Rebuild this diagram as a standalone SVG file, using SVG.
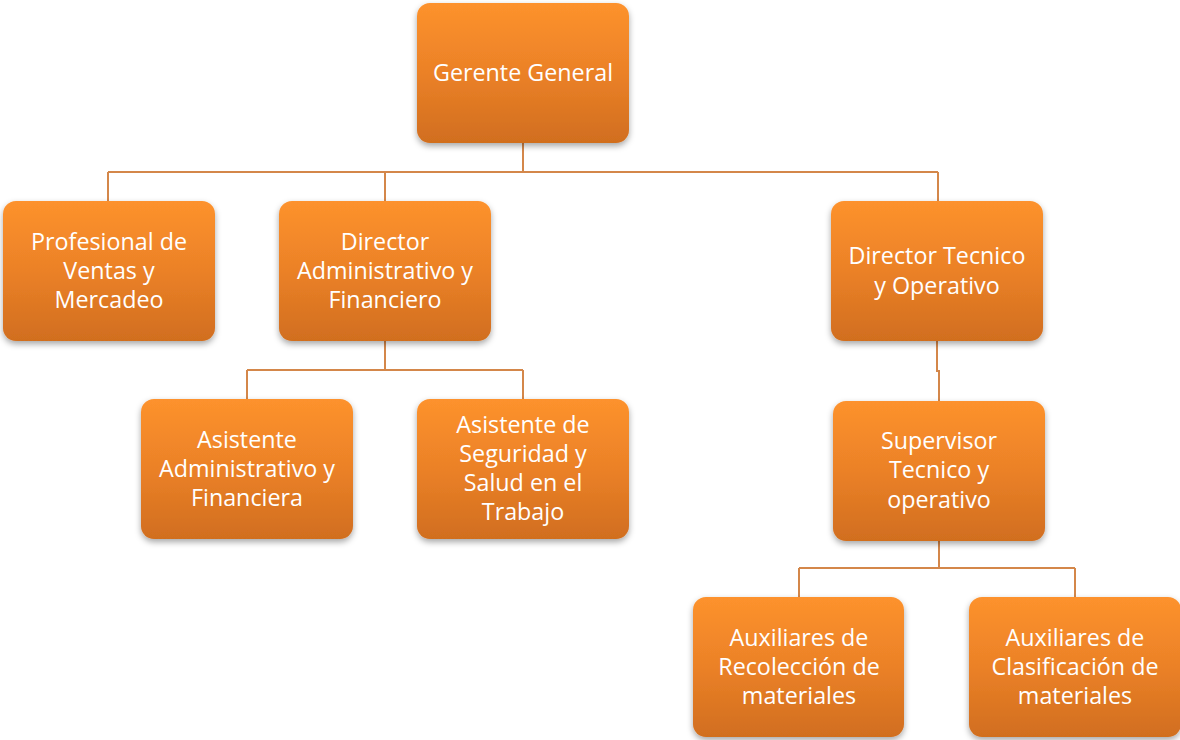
<svg xmlns="http://www.w3.org/2000/svg" width="1180" height="740" viewBox="0 0 1180 740">
<defs>
<linearGradient id="g" x1="0" y1="0" x2="0" y2="1">
<stop offset="0" stop-color="#FD922D"/>
<stop offset="0.5" stop-color="#EB8127"/>
<stop offset="1" stop-color="#D16E1F"/>
</linearGradient>
<filter id="sh" x="-10%" y="-10%" width="120%" height="130%">
<feDropShadow dx="0" dy="3" stdDeviation="3" flood-color="#000" flood-opacity="0.35"/>
</filter>
</defs>
<style>
.box{fill:url(#g);filter:url(#sh)}
.t{font-family:"Open Sans","Liberation Sans",sans-serif;font-size:23.3px;fill:#fff;text-anchor:middle}
.c{fill:none;stroke:#D4874A;stroke-width:2}
</style>
<rect width="1180" height="740" fill="#fff"/>
<g id="connectors">
<path class="c" d="M523 143V172M108 172H938M108 172V201M385 172V201M938 172V201"/>
<path class="c" d="M385 341V370M247 370H523M247 370V399M523 370V399"/>
<path class="c" d="M937 341V371H939V401"/>
<path class="c" d="M939 540V568M799 568H1075M799 568V597M1075 568V597"/>
</g>
<g id="n-gerente"><rect class="box" x="417" y="3" width="212" height="140" rx="13"/><text class="t" x="523" y="81">Gerente General</text></g>
<g id="n-profesional"><rect class="box" x="3" y="201" width="212" height="140" rx="13"/><text class="t" x="109" y="250">Profesional de</text><text class="t" x="109" y="279">Ventas y</text><text class="t" x="109" y="308">Mercadeo</text></g>
<g id="n-dir-admin"><rect class="box" x="279" y="201" width="212" height="140" rx="13"/><text class="t" x="385" y="250">Director</text><text class="t" x="385" y="279">Administrativo y</text><text class="t" x="385" y="308">Financiero</text></g>
<g id="n-dir-tec"><rect class="box" x="831" y="201" width="212" height="140" rx="13"/><text class="t" x="937" y="264">Director Tecnico</text><text class="t" x="937" y="294">y Operativo</text></g>
<g id="n-asist-admin"><rect class="box" x="141" y="399" width="212" height="140" rx="13"/><text class="t" x="247" y="448">Asistente</text><text class="t" x="247" y="477">Administrativo y</text><text class="t" x="247" y="506">Financiera</text></g>
<g id="n-asist-seg"><rect class="box" x="417" y="399" width="212" height="140" rx="13"/><text class="t" x="523" y="433">Asistente de</text><text class="t" x="523" y="462">Seguridad y</text><text class="t" x="523" y="491">Salud en el</text><text class="t" x="523" y="520">Trabajo</text></g>
<g id="n-supervisor"><rect class="box" x="833" y="401" width="212" height="140" rx="13"/><text class="t" x="939" y="449">Supervisor</text><text class="t" x="939" y="478">Tecnico y</text><text class="t" x="939" y="508">operativo</text></g>
<g id="n-aux-rec"><rect class="box" x="693" y="597" width="211" height="140" rx="13"/><text class="t" x="799" y="646">Auxiliares de</text><text class="t" x="799" y="675">Recolección de</text><text class="t" x="799" y="704">materiales</text></g>
<g id="n-aux-clas"><rect class="box" x="969" y="597" width="212" height="140" rx="13"/><text class="t" x="1075" y="646">Auxiliares de</text><text class="t" x="1075" y="675">Clasificación de</text><text class="t" x="1075" y="704">materiales</text></g>
</svg>
